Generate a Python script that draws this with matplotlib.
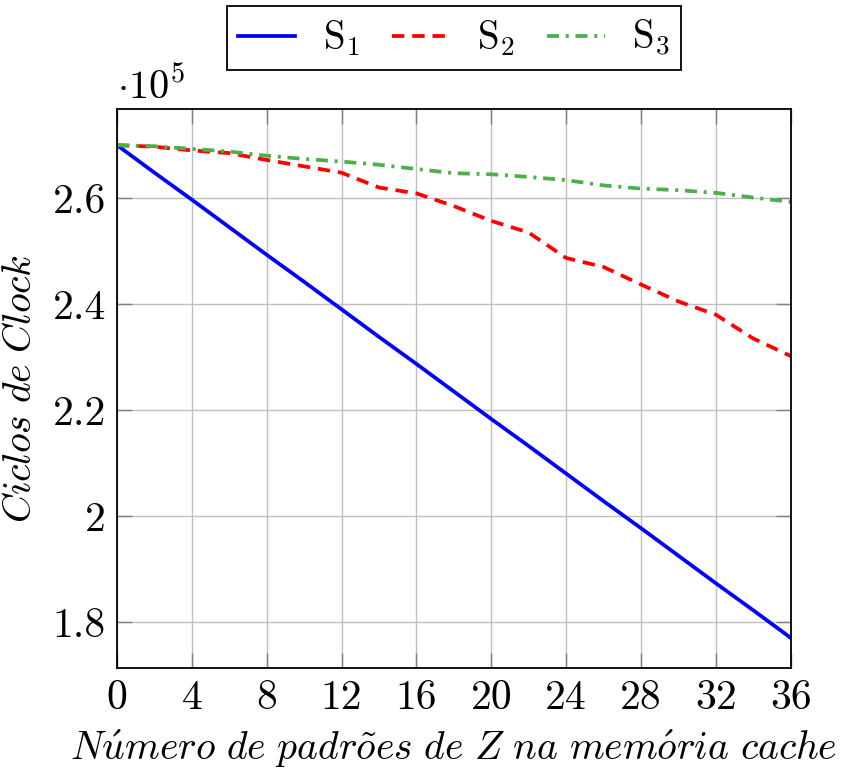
import matplotlib
matplotlib.use("Agg")
import matplotlib.pyplot as plt

plt.rcParams['font.family'] = 'serif'
plt.rcParams['font.serif'] = ['cmr10']
plt.rcParams['mathtext.fontset'] = 'cm'
plt.rcParams['axes.unicode_minus'] = False

# data (clock cycles)
x = [0, 2, 4, 6, 8, 10, 12, 14, 16, 18, 20, 22, 24, 26, 28, 30, 32, 34, 36]
s1 = [270000, 264800, 259700, 254500, 249300, 244200, 239000, 233800, 228700,
      223500, 218300, 213200, 208000, 202800, 197700, 192500, 187300, 182200, 177000]
s2 = [270000, 269700, 269000, 268500, 267200, 266000, 264800, 262000, 260900,
      258500, 255700, 253500, 248700, 247000, 243700, 240500, 238000, 233500, 230200]
s3 = [270000, 269800, 269300, 268800, 268000, 267400, 266900, 266300, 265500,
      264700, 264500, 264000, 263400, 262400, 261800, 261500, 261000, 260100, 259300]
yticks = [1.8, 2.0, 2.2, 2.4, 2.6]
ytick_labels = ['1.8', '2', '2.2', '2.4', '2.6']
xticks = [0, 4, 8, 12, 16, 20, 24, 28, 32, 36]

scale = 1e5

fig = plt.figure(figsize=(8.42, 7.74), dpi=100)
ax = fig.add_axes([0.139, 0.137, 0.8, 0.722])

ax.plot(x, [v / scale for v in s1], color='#0000ff', lw=2.7, label='S$_1$')
ax.plot(x, [v / scale for v in s2], color='#ff0000', lw=2.7, linestyle=(0, (3.3, 2.1)), label='S$_2$')
ax.plot(x, [v / scale for v in s3], color='#4daf4a', lw=2.7, linestyle=(0, (3.2, 1.8, 0.8, 1.8)), label='S$_3$')

ax.set_xlim(0, 36)
ax.set_ylim(1.713, 2.768)
ax.set_xticks(xticks)
ax.set_xticklabels([str(t) for t in xticks])
ax.set_yticks(yticks)
ax.set_yticklabels(ytick_labels)
ax.grid(True, color='#c0c0c0', lw=1.0)
ax.set_axisbelow(True)
ax.tick_params(direction='in', length=10.5, width=1.0, color='#808080',
               top=True, right=True, labelsize=30, pad=8)
for sp in ax.spines.values():
    sp.set_linewidth(1.3)

ax.set_xlabel(r'$\mathit{N\acute{u}mero\ de\ padr\tilde{o}es\ de\ Z\ na\ mem\acute{o}ria\ cache}$',
              fontsize=28.5, labelpad=8)
ax.set_ylabel(r'$\mathit{Ciclos\ de\ Clock}$', fontsize=28.5, labelpad=10)
ax.text(0, 1.005, r'$\cdot 10^5$', transform=ax.transAxes, fontsize=29, ha='left', va='bottom')

leg = ax.legend(loc='lower center', bbox_to_anchor=(0.5, 1.07), ncol=3, fontsize=28,
                frameon=True, fancybox=False, edgecolor='black', framealpha=1,
                handlelength=1.47, columnspacing=0.85, handletextpad=0.7,
                borderpad=0.3, borderaxespad=0)
leg.get_frame().set_linewidth(1.3)

fig.savefig('out.png', dpi=100)
